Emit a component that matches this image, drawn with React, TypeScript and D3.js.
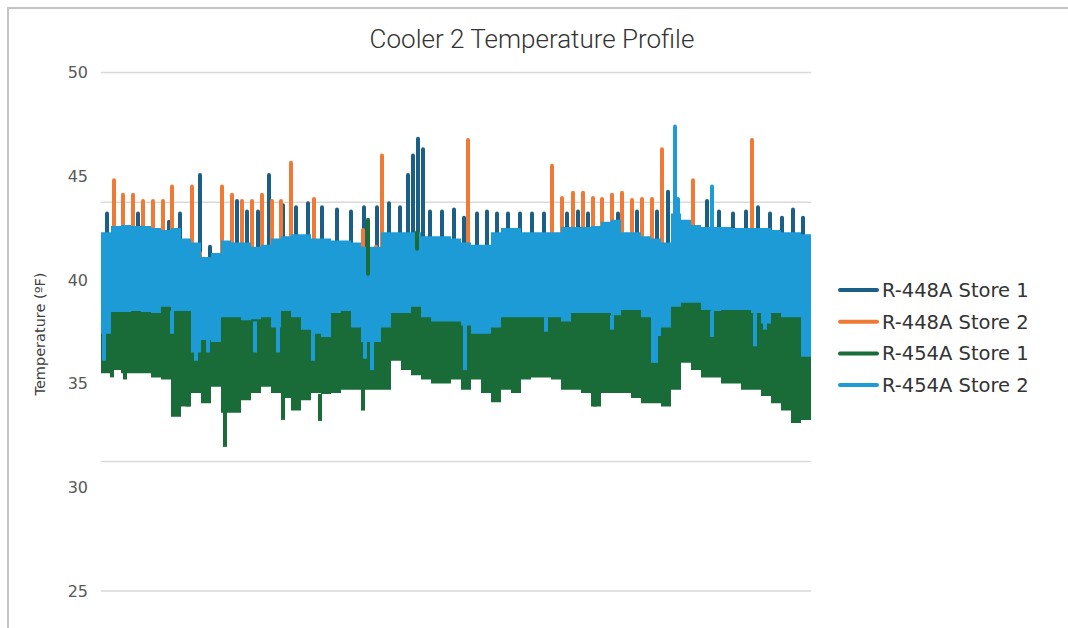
import React from "react";
import * as d3 from "d3";

const width = 1068;
const height = 628;

const yTicks = [50, 45, 40, 35, 30, 25];
// Excel drew the gridlines on a 4-step grid, not on the labelled ticks
const gridValues = [50, 43.75, 37.5, 31.25, 25];

const seriesNames = ["R-448A Store 1", "R-448A Store 2", "R-454A Store 1", "R-454A Store 2"];
const seriesColors = ["#1b5e86", "#f07a35", "#196c37", "#1d9bd6"];

// readings are grouped into bins of 10 samples, 710 samples total
const binSize = 10;
const sampleCount = 710;

// R-454A Store 2 envelope (high / low per bin)
const store2_454High = [
  42.3, 42.6, 42.65, 42.6, 42.6, 42.5, 42.4, 42.5, 42.0, 41.8,
  41.1, 41.3, 41.9, 41.8, 41.8, 41.6, 41.7, 42.0, 42.1, 42.2,
  42.2, 42.0, 42.0, 41.9, 41.9, 41.8, 41.6, 41.6, 42.3, 42.3,
  42.3, 42.3, 42.1, 42.1, 42.1, 42.0, 41.8, 41.7, 41.7, 42.3,
  42.5, 42.5, 42.3, 42.3, 42.3, 42.3, 42.55, 42.55, 42.55, 42.6,
  42.8, 42.9, 42.3, 42.3, 42.1, 42.0, 41.8, 43.2, 42.9, 42.65,
  42.55, 42.55, 42.55, 42.5, 42.5, 42.5, 42.5, 42.4, 42.3, 42.3,
  42.2,
];
const store2_454Low = [
  37.4, 38.45, 38.45, 38.5, 38.45, 38.4, 38.7, 38.5, 38.5, 36.5,
  37.1, 37.0, 38.2, 38.2, 38.05, 38.1, 38.2, 37.7, 38.5, 38.2,
  37.6, 37.4, 37.25, 38.4, 38.5, 37.7, 37.0, 37.0, 37.7, 38.4,
  38.4, 38.7, 38.2, 38.0, 38.0, 38.0, 37.8, 37.4, 37.4, 37.7,
  38.2, 38.2, 38.2, 38.2, 38.2, 38.2, 38.0, 38.4, 38.4, 38.4,
  38.4, 38.3, 38.55, 38.55, 38.2, 37.3, 37.7, 38.7, 38.9, 38.9,
  38.55, 38.5, 38.55, 38.55, 38.55, 38.4, 37.9, 38.4, 38.2, 38.2,
  36.3,
];
// narrow downward dips: [sample, low, high]
const store2_454Dips: [number, number, number][] = [
  [3, 36.1, 38.0], [71, 37.4, 38.5], [95, 36.1, 37.5], [107, 36.5, 37.5],
  [154, 36.5, 38.0], [177, 36.5, 38.0], [212, 36.1, 37.5], [264, 36.2, 37.5],
  [271, 35.65, 37.5], [364, 35.65, 38.0], [445, 37.5, 38.2], [511, 37.6, 38.3],
  [552, 36.0, 37.5], [555, 36.0, 37.5], [611, 37.25, 38.5], [654, 36.8, 38.4],
  [664, 37.6, 38.4],
];

// R-454A Store 1 envelope
const store1_454High = [
  38.6, 38.7, 38.6, 38.7, 38.6, 38.7, 38.8, 38.6, 38.7, 38.5,
  38.6, 38.5, 38.7, 38.6, 38.5, 38.6, 38.7, 38.5, 38.7, 38.6,
  38.5, 38.4, 38.6, 38.7, 38.7, 38.5, 38.4, 38.3, 38.6, 38.7,
  38.7, 38.8, 38.6, 38.5, 38.5, 38.5, 38.3, 38.5, 38.5, 38.6,
  38.7, 38.6, 38.6, 38.6, 38.5, 38.6, 38.6, 38.7, 38.7, 38.7,
  38.7, 38.6, 38.7, 38.7, 38.6, 38.3, 38.5, 38.9, 39.0, 39.0,
  38.8, 38.6, 38.7, 38.7, 38.7, 38.5, 38.6, 38.6, 38.5, 38.5,
  38.4,
];
const store1_454Low = [
  35.5, 35.65, 35.5, 35.5, 35.5, 35.3, 35.2, 33.4, 33.9, 34.55,
  34.05, 34.85, 33.6, 33.6, 34.2, 34.55, 34.85, 34.55, 34.3, 33.7,
  34.2, 34.55, 34.5, 34.55, 34.7, 34.7, 34.7, 34.7, 34.7, 36.1,
  35.65, 35.4, 35.2, 35.0, 35.0, 35.2, 34.7, 35.2, 34.55, 34.1,
  34.7, 34.55, 35.2, 35.3, 35.3, 35.2, 34.7, 34.7, 34.55, 33.9,
  34.55, 34.55, 34.55, 34.3, 34.05, 34.05, 33.9, 34.7, 36.0, 35.65,
  35.3, 35.3, 35.0, 35.0, 34.7, 34.7, 34.4, 34.05, 33.7, 33.1,
  33.25,
];
const store1_454Dips: [number, number, number][] = [
  [124, 31.95, 34.0], [182, 33.25, 34.5], [219, 33.2, 34.5], [262, 33.7, 34.8],
  [11, 35.3, 36.0], [24, 35.2, 36.0], [87, 33.9, 34.6], [494, 33.9, 34.6],
];

// spikes: [sample, low, high]
const store1_448Spikes: [number, number, number][] = [
  [6, 41.8, 43.2], [37, 41.8, 43.2], [68, 41.8, 42.8], [79, 41.8, 43.2],
  [99, 41.0, 45.06], [109, 40.8, 41.6], [136, 41.2, 43.8], [146, 41.2, 43.3],
  [157, 41.2, 43.3], [168, 40.9, 45.06], [182, 41.3, 43.6], [195, 41.3, 43.5],
  [207, 41.3, 43.7], [221, 41.3, 43.5], [236, 41.3, 43.4], [250, 41.3, 43.3],
  [263, 41.3, 43.5], [276, 41.3, 43.5], [288, 41.5, 43.7], [299, 41.5, 43.5],
  [307, 41.5, 45.06], [312, 41.5, 46.0], [317, 41.5, 46.8], [322, 41.5, 46.3],
  [329, 41.5, 43.3], [341, 41.5, 43.3], [353, 41.5, 43.4], [363, 41.2, 43.0],
  [376, 41.2, 43.2], [386, 41.3, 43.3], [396, 41.5, 43.2], [407, 41.5, 43.2],
  [419, 41.5, 43.2], [431, 41.5, 43.2], [443, 41.5, 43.2], [466, 41.5, 43.2],
  [477, 41.5, 43.3], [487, 41.5, 43.2], [517, 41.5, 43.2], [536, 41.5, 43.3],
  [556, 41.5, 43.3], [567, 41.2, 44.25], [606, 41.8, 43.8], [618, 41.8, 43.3],
  [632, 41.8, 43.2], [645, 41.8, 43.3], [657, 41.8, 43.5], [669, 41.8, 43.2],
  [681, 41.8, 43.0], [692, 41.8, 43.4], [702, 41.8, 43.0],
];

const store2_448Spikes: [number, number, number][] = [
  [13, 41.8, 44.8], [22, 41.8, 44.1], [32, 41.8, 44.1], [42, 41.8, 43.8],
  [52, 41.8, 43.8], [62, 41.8, 43.8], [71, 41.0, 44.5], [91, 40.6, 44.5],
  [99, 40.3, 41.3], [121, 41.2, 44.5], [131, 41.2, 44.1], [141, 41.2, 43.8],
  [151, 41.2, 43.8], [161, 41.2, 44.1], [171, 41.2, 43.8], [180, 41.2, 43.8],
  [190, 41.2, 45.65], [213, 41.2, 43.9], [262, 40.9, 42.4], [275, 41.0, 41.6],
  [281, 41.1, 46.0], [367, 41.1, 46.75], [451, 41.5, 45.5], [461, 41.5, 43.95],
  [472, 41.5, 44.2], [482, 41.5, 44.2], [492, 41.5, 43.95], [501, 41.5, 43.9],
  [511, 41.5, 44.1], [521, 41.5, 44.2], [531, 41.5, 43.85], [541, 41.5, 43.9],
  [551, 40.9, 43.9], [561, 41.6, 46.3], [592, 41.8, 44.8], [651, 41.8, 46.75],
];

const store2_454Spikes: [number, number, number][] = [
  [574, 42.5, 47.4], [577, 42.5, 43.9], [611, 42.5, 44.5],
];

const store1_454Spikes: [number, number, number][] = [
  [267, 40.3, 42.9], [316, 41.5, 42.3],
];

const x = d3.scaleLinear().domain([0, sampleCount]).range([101, 811]);
const y = d3.scaleLinear().domain([25, 50]).range([591, 72.5]);

type Bin = { t: number; hi: number; lo: number };

const toBins = (hi: number[], lo: number[]): Bin[] => {
  const bins = hi.map((h, i) => ({ t: i * binSize, hi: h, lo: lo[i] }));
  const last = bins[bins.length - 1];
  bins.push({ t: sampleCount, hi: last.hi, lo: last.lo });
  return bins;
};

const band = d3
  .area<Bin>()
  .x((d) => x(d.t))
  .y0((d) => y(d.lo))
  .y1((d) => y(d.hi))
  .curve(d3.curveStepAfter);

const Spikes = ({
  data,
  color,
  w = 4,
  cap = "round",
}: {
  data: [number, number, number][];
  color: string;
  w?: number;
  cap?: "round" | "butt";
}) => (
  <g>
    {data.map(([t, lo, hi], i) => (
      <line
        key={i}
        x1={x(t)}
        x2={x(t)}
        y1={y(lo)}
        y2={y(hi)}
        stroke={color}
        strokeWidth={w}
        strokeLinecap={cap}
      />
    ))}
  </g>
);

const titleFont = "Roboto, 'DejaVu Sans', sans-serif";
const font = "'DejaVu Sans', Roboto, sans-serif";

const App = () => {
  const green = toBins(store1_454High, store1_454Low);
  const lightBlue = toBins(store2_454High, store2_454Low);

  return (
    <svg
      width={width}
      height={height}
      style={{ position: "absolute", left: 0, top: 0, background: "#fff" }}
    >
      {/* frame */}
      <path d="M8,640 L8,8 L1080,8" fill="none" stroke="#c4c4c4" strokeWidth={2} />

      <text
        x={532}
        y={48}
        textAnchor="middle"
        fontFamily={titleFont}
        fontSize={26}
        fontWeight={300}
        fill="#333"
      >
        Cooler 2 Temperature Profile
      </text>

      {gridValues.map((v) => (
        <line key={v} x1={101} x2={811} y1={y(v)} y2={y(v)} stroke="#d9d9d9" strokeWidth={1.5} />
      ))}

      {yTicks.map((v) => (
        <text
          key={v}
          x={88}
          y={y(v)}
          dy="0.35em"
          textAnchor="end"
          fontFamily={font}
          fontSize={16}
          fill="#595959"
        >
          {v}
        </text>
      ))}

      <text
        transform={`translate(45, 334) rotate(-90)`}
        textAnchor="middle"
        fontFamily={font}
        fontSize={14.5}
        fill="#404040"
      >
        Temperature (ºF)
      </text>

      <Spikes data={store1_448Spikes} color={seriesColors[0]} />
      <Spikes data={store2_448Spikes} color={seriesColors[1]} />
      <path d={band(green) || ""} fill={seriesColors[2]} />
      <Spikes data={store1_454Dips} color={seriesColors[2]} w={4} cap="butt" />
      <path d={band(lightBlue) || ""} fill={seriesColors[3]} />
      <Spikes data={store2_454Dips} color={seriesColors[3]} w={4} cap="butt" />
      <Spikes data={store2_454Spikes} color={seriesColors[3]} />
      <Spikes data={store1_454Spikes} color={seriesColors[2]} />

      {seriesNames.map((name, i) => {
        const ly = 290 + i * 31.7;
        return (
          <g key={name}>
            <line
              x1={840}
              x2={877}
              y1={ly}
              y2={ly}
              stroke={seriesColors[i]}
              strokeWidth={4}
              strokeLinecap="round"
            />
            <text x={882} y={ly} dy="0.35em" fontFamily={font} fontSize={19.5} fill="#333">
              {name}
            </text>
          </g>
        );
      })}
    </svg>
  );
};

export default App;
